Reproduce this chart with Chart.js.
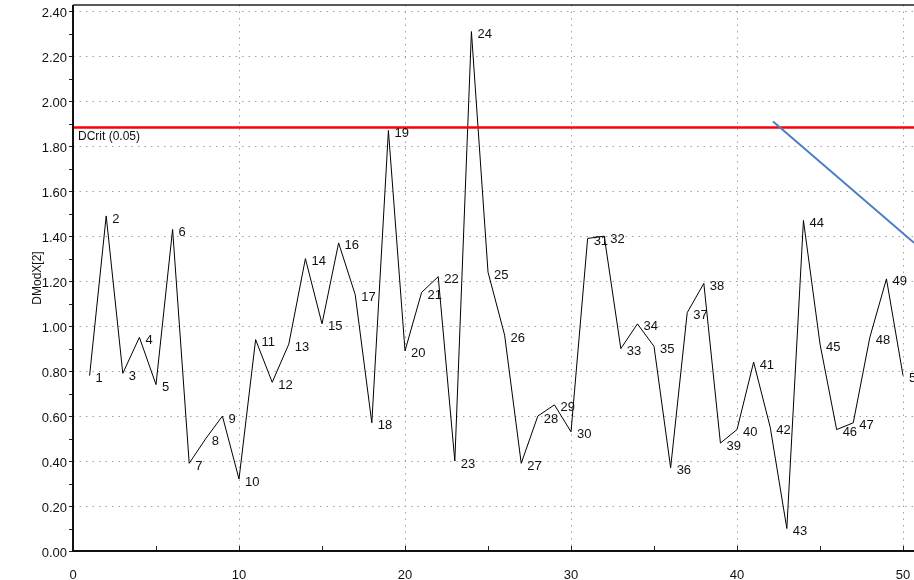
<!DOCTYPE html>
<html>
<head>
<meta charset="utf-8">
<script src="https://cdn.jsdelivr.net/npm/chart.js@4/dist/chart.umd.min.js"></script>
<style>
  html,body{margin:0;padding:0;background:#fff;overflow:hidden}
  #wrap{width:914px;height:580px;position:relative}
</style>
</head>
<body>
<div id="wrap"><canvas id="c" width="914" height="580"></canvas></div>
<script>
/* ─ data ─ */
const obsIndex=[1,2,3,4,5,6,7,8,9,10,11,12,13,14,15,16,17,18,19,20,21,22,23,24,25,
  26,27,28,29,30,31,32,33,34,35,36,37,38,39,40,41,42,43,44,45,46,47,48,49,50];
const dmodx=[0.78,1.49,0.79,0.95,0.74,1.43,0.39,0.50,0.60,0.32,0.94,0.75,0.92,1.30,1.01,1.37,1.14,0.57,1.87,0.89,
  1.15,1.22,0.40,2.31,1.24,0.96,0.39,0.60,0.65,0.53,1.39,1.40,0.90,1.01,0.91,0.37,1.06,1.19,0.48,0.54,
  0.84,0.55,0.10,1.47,0.92,0.54,0.57,0.95,1.21,0.78];
const dcrit=1.883;
const dcritLabel='DCrit (0.05)';
const blueX=[42.17,50.66];
const blueY=[1.91,1.371];
const xMax=50.66, yMax=2.428;
const yTicks=[0,0.1,0.2,0.3,0.4,0.5,0.6,0.7,0.8,0.9,1.0,1.1,1.2,1.3,1.4,1.5,1.6,1.7,1.8,1.9,2.0,2.1,2.2,2.3,2.4];
const xTicks=[0,5,10,15,20,25,30,35,40,45,50];

const FONT="'Liberation Sans', Arial, sans-serif";
const isMajorY=v=>Math.abs(Math.round(v*10)%2)===0;
const isMajorX=v=>v%10===0;

/* ─ plugin: frame, minor ticks, labels ─ */
const extras={
  id:'extras',
  afterDatasetsDraw(chart){
    const {ctx,chartArea:a,scales:{x,y}}=chart;
    ctx.save();
    // point labels
    ctx.fillStyle='#111';
    ctx.font='13px '+FONT;
    ctx.textAlign='left';ctx.textBaseline='middle';
    obsIndex.forEach((n,i)=>{
      ctx.fillText(String(n),x.getPixelForValue(n)+6,y.getPixelForValue(dmodx[i])+3);
    });
    // DCrit label
    ctx.font='12px '+FONT;
    ctx.fillText(dcritLabel,a.left+5,y.getPixelForValue(dcrit)+9);
    ctx.restore();
  },
  afterDraw(chart){
    const {ctx,chartArea:a,scales:{x,y}}=chart;
    ctx.save();
    ctx.strokeStyle='#222';
    // top border
    ctx.lineWidth=1.5;
    ctx.beginPath();ctx.moveTo(a.left,a.top);ctx.lineTo(a.right,a.top);ctx.stroke();
    // y ticks (outside)
    ctx.lineWidth=1;
    yTicks.forEach(v=>{
      const py=Math.round(y.getPixelForValue(v))+0.5;
      ctx.beginPath();ctx.moveTo(a.left-4,py);ctx.lineTo(a.left,py);ctx.stroke();
    });
    // x ticks (inside)
    xTicks.forEach(v=>{
      const px=Math.round(x.getPixelForValue(v))+0.5;
      ctx.beginPath();ctx.moveTo(px,a.bottom);ctx.lineTo(px,a.bottom-5);ctx.stroke();
    });
    // axes lines
    ctx.lineWidth=2;ctx.strokeStyle='#111';
    ctx.beginPath();ctx.moveTo(a.left,a.top);ctx.lineTo(a.left,a.bottom);ctx.lineTo(a.right,a.bottom);ctx.stroke();
    ctx.restore();
  }
};

new Chart(document.getElementById('c'),{
  type:'line',
  data:{
    datasets:[
      {label:'DModX',data:obsIndex.map((n,i)=>({x:n,y:dmodx[i]})),borderColor:'#000',borderWidth:1,pointRadius:0,tension:0,order:3},
      {label:'DCrit',data:[{x:0,y:dcrit},{x:xMax,y:dcrit}],borderColor:'#ff0000',borderWidth:2.5,pointRadius:0,order:2},
      {label:'line',data:blueX.map((v,i)=>({x:v,y:blueY[i]})),borderColor:'#4a7ec4',borderWidth:2,pointRadius:0,order:1}
    ]
  },
  options:{
    responsive:false,animation:false,
    devicePixelRatio:1,
    layout:{padding:{left:28,top:0,right:0,bottom:0}},
    plugins:{legend:{display:false},tooltip:{enabled:false}},
    scales:{
      x:{
        type:'linear',min:0,max:xMax,
        afterBuildTicks:s=>{s.ticks=xTicks.map(v=>({value:v}))},
        afterFit:s=>{s.height=29;s.paddingLeft=0;s.paddingRight=0},
        ticks:{autoSkip:false,maxRotation:0,padding:17,color:'#111',font:{family:FONT,size:13},
          callback:v=>isMajorX(v)?String(v):''},
        grid:{drawTicks:false,color:c=>isMajorX(c.tick.value)&&c.tick.value!==0?'#a0a0a0':'rgba(0,0,0,0)',lineWidth:1},
        border:{display:false,dash:[1.5,5]}
      },
      y:{
        type:'linear',min:0,max:yMax,
        afterBuildTicks:s=>{s.ticks=yTicks.map(v=>({value:v}))},
        afterFit:s=>{s.width=45;s.paddingTop=5;s.paddingBottom=0},
        title:{display:true,text:'DModX[2]',color:'#111',font:{family:FONT,size:12},padding:{top:2,bottom:0}},
        ticks:{autoSkip:false,padding:6,labelOffset:2,color:'#111',font:{family:FONT,size:13},
          callback:v=>isMajorY(v)?v.toFixed(2):''},
        grid:{drawTicks:false,color:c=>isMajorY(c.tick.value)&&c.tick.value!==0?'#a0a0a0':'rgba(0,0,0,0)',lineWidth:1},
        border:{display:false,dash:[1.5,5]}
      }
    }
  },
  plugins:[extras]
});
</script>
</body>
</html>
